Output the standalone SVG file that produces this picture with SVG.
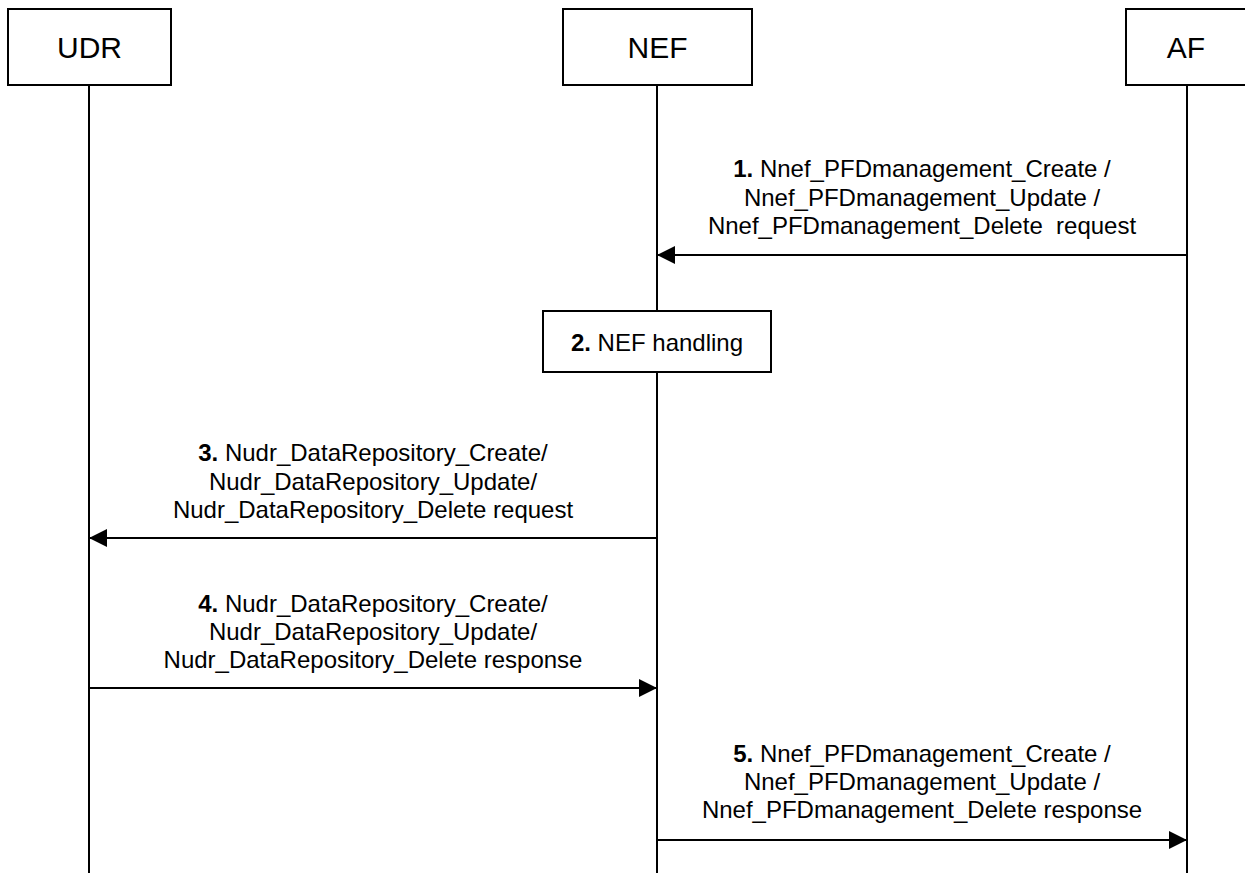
<svg xmlns="http://www.w3.org/2000/svg" width="1245" height="873" viewBox="0 0 1245 873">
<style>
.box{fill:#fff;stroke:#000;stroke-width:2}
.life{stroke:#000;stroke-width:2;fill:none}
.msg{stroke:#000;stroke-width:2;fill:none;marker-end:url(#ah)}
.hdr{font-family:"Liberation Sans",Arial,sans-serif;font-size:30px;text-anchor:middle;fill:#000}
.lbl{font-family:"Liberation Sans",Arial,sans-serif;font-size:24px;text-anchor:middle;fill:#000;white-space:pre}
.b{font-weight:bold}
</style>
<defs>
<marker id="ah" markerUnits="userSpaceOnUse" markerWidth="18" markerHeight="18" viewBox="0 0 16 16" refX="16" refY="8" orient="auto">
<path d="M0,0 L16,8 L0,16 Z" fill="#000"/>
</marker>
</defs>
<rect width="1245" height="873" fill="#fff"/>
<g id="UDR">
<rect class="box" x="8" y="9" width="163" height="76"/>
<text class="hdr" x="89.5" y="58">UDR</text>
<line class="life" x1="89" y1="85" x2="89" y2="873"/>
</g>
<g id="NEF">
<rect class="box" x="563" y="9" width="189" height="76"/>
<text class="hdr" x="657.5" y="58">NEF</text>
<line class="life" x1="657" y1="85" x2="657" y2="311"/>
<line class="life" x1="657" y1="372" x2="657" y2="873"/>
</g>
<g id="AF">
<rect class="box" x="1126" y="9" width="124" height="76"/>
<text class="hdr" x="1186" y="58">AF</text>
<line class="life" x1="1187" y1="85" x2="1187" y2="873"/>
</g>
<g id="step2">
<rect class="box" x="543" y="311" width="228" height="61"/>
<text class="lbl" x="657" y="351"><tspan class="b">2.</tspan> NEF handling</text>
</g>
<g id="connectors">
<line class="msg" x1="1187" y1="255" x2="657" y2="255"/>
<line class="msg" x1="657" y1="538" x2="89" y2="538"/>
<line class="msg" x1="89" y1="688" x2="657" y2="688"/>
<line class="msg" x1="657" y1="840" x2="1187" y2="840"/>
</g>
<g id="labels">
<text class="lbl" x="922" y="177"><tspan class="b">1.</tspan> Nnef_PFDmanagement_Create /</text>
<text class="lbl" x="922" y="206">Nnef_PFDmanagement_Update /</text>
<text class="lbl" x="922" y="234">Nnef_PFDmanagement_Delete  request</text>
<text class="lbl" x="373" y="461"><tspan class="b">3.</tspan> Nudr_DataRepository_Create/</text>
<text class="lbl" x="373" y="490">Nudr_DataRepository_Update/</text>
<text class="lbl" x="373" y="518">Nudr_DataRepository_Delete request</text>
<text class="lbl" x="373" y="612"><tspan class="b">4.</tspan> Nudr_DataRepository_Create/</text>
<text class="lbl" x="373" y="640">Nudr_DataRepository_Update/</text>
<text class="lbl" x="373" y="668">Nudr_DataRepository_Delete response</text>
<text class="lbl" x="922" y="762"><tspan class="b">5.</tspan> Nnef_PFDmanagement_Create /</text>
<text class="lbl" x="922" y="790">Nnef_PFDmanagement_Update /</text>
<text class="lbl" x="922" y="818">Nnef_PFDmanagement_Delete response</text>
</g>
</svg>
